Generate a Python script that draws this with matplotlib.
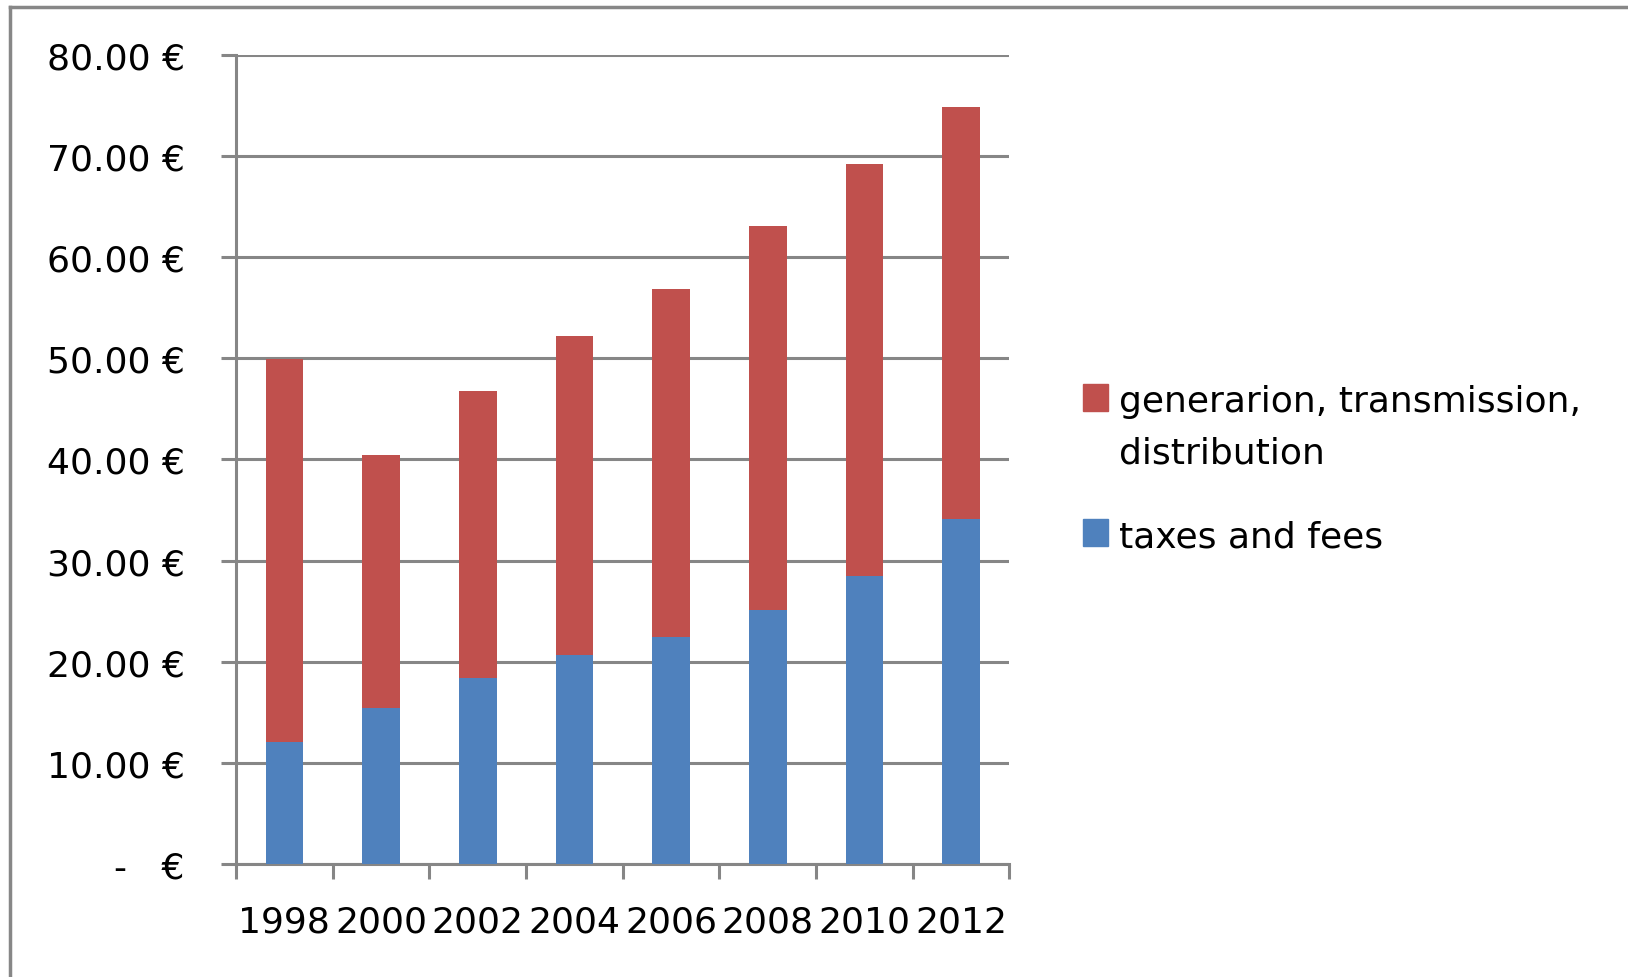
import matplotlib
matplotlib.use("Agg")
import matplotlib.pyplot as plt
from matplotlib.patches import Rectangle
from matplotlib.lines import Line2D

# data (EUR)
years = ["1998", "2000", "2002", "2004", "2006", "2008", "2010", "2012"]
taxes = [12.1, 15.4, 18.4, 20.7, 22.4, 25.1, 28.5, 34.1]
totals = [49.9, 40.4, 46.8, 52.2, 56.8, 63.1, 69.2, 74.8]
generation = [t - x for t, x in zip(totals, taxes)]
yticks = [0, 10, 20, 30, 40, 50, 60, 70, 80]

BLUE = "#4F81BD"
RED = "#C0504D"
GRAY = "#868686"
W, H = 1628, 978

plt.rcParams['font.family'] = ['DejaVu Sans']

fig = plt.figure(figsize=(W / 100, H / 100), dpi=100)
ax = fig.add_axes([0.145, 0.1155, 0.475, 0.8275])

x = range(len(years))
ax.bar(x, taxes, width=0.39, color=BLUE, zorder=3)
ax.bar(x, generation, width=0.39, bottom=taxes, color=RED, zorder=3)

ax.set_xlim(-0.5, len(years) - 0.5)
ax.set_ylim(0, 80)

def euro(v):
    if v == 0:
        return "-   €"
    return "%.2f €" % v

ax.set_yticks(yticks)
ax.set_yticklabels([euro(v) for v in yticks])
ax.set_xticks(list(x))
ax.set_xticklabels(years)
ax.set_xticks([i - 0.5 for i in range(len(years) + 1)], minor=True)

ax.grid(axis='y', color=GRAY, linewidth=2.2, zorder=0)
ax.set_axisbelow(True)

for s in ['top', 'right']:
    ax.spines[s].set_visible(False)
for s in ['left', 'bottom']:
    ax.spines[s].set_color(GRAY)
    ax.spines[s].set_linewidth(2.2)

ax.tick_params(axis='y', length=11, width=2.2, color=GRAY, pad=26,
               labelsize=26, labelcolor='black')
ax.tick_params(axis='x', which='major', length=0, pad=29, labelsize=26)
ax.tick_params(axis='x', which='minor', length=11, width=2.2, color=GRAY)

# legend, drawn by hand so the swatch sits on the first line like the original
legend_items = [
    (RED, ["generarion, transmission,", "distribution"], 385, [412, 464]),
    (BLUE, ["taxes and fees"], 520, [547]),
]
for col, lines, sq_top, baselines in legend_items:
    fig.add_artist(Rectangle((1083 / W, 1 - (sq_top + 27) / H), 25 / W, 27 / H,
                             transform=fig.transFigure, color=col))
    for txt, b in zip(lines, baselines):
        fig.text(1119 / W, 1 - b / H, txt, fontsize=26, va='baseline', ha='left')

# outer chart border
fig.add_artist(Line2D([10 / W, 10 / W], [0, 1 - 8 / H],
                      transform=fig.transFigure, color="#878787", linewidth=2.5))
fig.add_artist(Line2D([10 / W, 1], [1 - 8 / H, 1 - 8 / H],
                      transform=fig.transFigure, color="#878787", linewidth=2.5))

fig.savefig("out.png", dpi=100)
